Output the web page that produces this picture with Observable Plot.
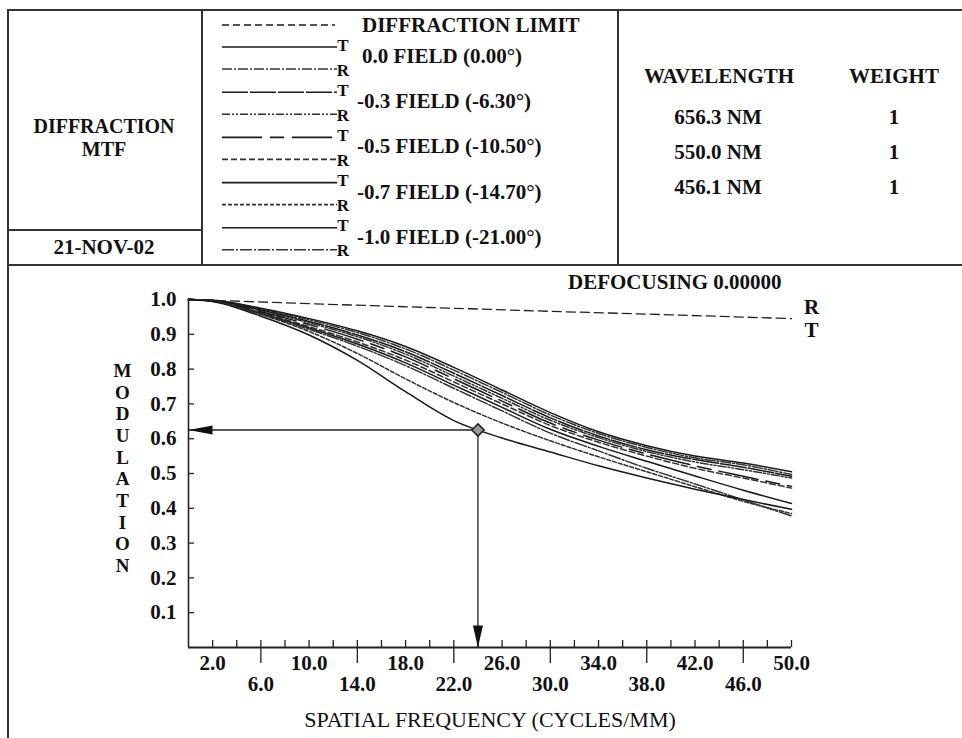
<!DOCTYPE html>
<html>
<head>
<meta charset="utf-8">
<script src="https://cdn.jsdelivr.net/npm/d3@7"></script>
<script src="https://cdn.jsdelivr.net/npm/@observablehq/plot@0.6"></script>
<style>
  body { margin: 0; background: #fff; }
  #root { position: relative; width: 962px; height: 738px; overflow: hidden; background: #fff;
          font-family: "Liberation Serif", "Times New Roman", serif; }
  #frame { position: absolute; left: 0; top: 0; }
  #plot { position: absolute; left: 0; top: 265px; }
</style>
</head>
<body>
<div id="root">
  <svg id="frame" width="962" height="738"></svg>
  <div id="plot"></div>
</div>
<script>
// ---------------- DATA ----------------
const freqs = [0, 2, 6, 10, 14, 18, 22, 26, 30, 34, 38, 42, 46, 50];

const diffFreqs = [0, 10, 20, 30, 40, 50];
const diffLimit = [1.0, 0.988, 0.977, 0.966, 0.956, 0.945];

const mtf00T = [1, 0.998, 0.975, 0.945, 0.910, 0.865, 0.805, 0.740, 0.675, 0.620, 0.580, 0.550, 0.530, 0.505];
const mtf00R = [1, 0.998, 0.973, 0.942, 0.905, 0.858, 0.797, 0.733, 0.668, 0.615, 0.575, 0.545, 0.525, 0.497];
const mtf03T = [1, 0.997, 0.970, 0.937, 0.898, 0.850, 0.788, 0.724, 0.660, 0.608, 0.568, 0.540, 0.518, 0.492];
const mtf03R = [1, 0.997, 0.968, 0.933, 0.893, 0.843, 0.780, 0.716, 0.653, 0.603, 0.563, 0.533, 0.511, 0.487];
const mtf05T = [1, 0.996, 0.965, 0.928, 0.886, 0.835, 0.772, 0.708, 0.645, 0.596, 0.556, 0.522, 0.492, 0.463];
const mtf05R = [1, 0.996, 0.962, 0.922, 0.878, 0.826, 0.763, 0.700, 0.638, 0.590, 0.550, 0.515, 0.487, 0.458];
const mtf07T = [1, 0.996, 0.960, 0.918, 0.872, 0.818, 0.754, 0.690, 0.627, 0.578, 0.535, 0.493, 0.452, 0.414];
const mtf07R = [1, 0.995, 0.957, 0.908, 0.845, 0.772, 0.704, 0.645, 0.594, 0.548, 0.505, 0.462, 0.420, 0.385];
const mtf10T = [1, 0.994, 0.952, 0.898, 0.825, 0.735, 0.652, 0.602, 0.562, 0.522, 0.487, 0.455, 0.425, 0.397];
const mtf10R = [1, 0.995, 0.958, 0.914, 0.866, 0.810, 0.745, 0.680, 0.616, 0.565, 0.515, 0.470, 0.424, 0.378];

const fieldLabels = ["0.0 FIELD (0.00°)", "-0.3 FIELD (-6.30°)", "-0.5 FIELD (-10.50°)", "-0.7 FIELD (-14.70°)", "-1.0 FIELD (-21.00°)"];
const tangential = [mtf00T, mtf03T, mtf05T, mtf07T, mtf10T];
const radial     = [mtf00R, mtf03R, mtf05R, mtf07R, mtf10R];

const wavelengths = ["656.3 NM", "550.0 NM", "456.1 NM"];
const weights = ["1", "1", "1"];

const yTicks = [0.1, 0.2, 0.3, 0.4, 0.5, 0.6, 0.7, 0.8, 0.9, 1.0];
const xLabelsTop = [2, 10, 18, 26, 34, 42, 50];
const xLabelsBottom = [6, 14, 22, 30, 38, 46];
const xMinorTicks = [2, 4, 6, 8, 10, 12, 14, 16, 18, 20, 22, 24, 26, 28, 30, 32, 34, 36, 38, 40, 42, 44, 46, 48, 50];
const xMajorTicks = [6, 14, 22, 30, 38, 46];

const readout = {freq: 24, mtf: 0.625};

const titleLines = ["DIFFRACTION", "MTF"];
const dateLabel = "21-NOV-02";
const diffLabel = "DIFFRACTION LIMIT";
const defocusLabel = "DEFOCUSING 0.00000";
const xTitle = "SPATIAL FREQUENCY (CYCLES/MM)";
const yTitle = "MODULATION";

// styles
const tDash = ["none", "26,2", "40,8,14,8", "none", "none"];
const rDash = ["10,2,2,2", "8,2,2,2,2,2", "6,3", "4,2", "12,2,2,2"];
const tColor = "#1a1a1a";
const rColor = "#333";
const font = "'Liberation Serif', 'Times New Roman', serif";

// ---------------- HEADER / FRAME ----------------
const svg = d3.select("#frame");
const ink = "#333";
const seg = (x1, y1, x2, y2, w = 2) =>
  svg.append("line").attr("x1", x1).attr("y1", y1).attr("x2", x2).attr("y2", y2)
     .attr("stroke", ink).attr("stroke-width", w);
seg(7, 10, 962, 10);
seg(8, 9, 8, 738);
seg(202, 10, 202, 265);
seg(618, 10, 618, 265);
seg(8, 230, 202, 230);
seg(8, 265, 962, 265);

const txt = (x, y, s, anchor = "middle", opts = {}) =>
  svg.append("text").attr("x", x).attr("y", y).attr("text-anchor", anchor)
     .attr("dominant-baseline", "central")
     .attr("font-family", font).attr("font-size", opts.size || 21)
     .attr("font-weight", opts.weight || "bold").attr("fill", "#111").text(s);

titleLines.forEach((s, i) => txt(104, 126 + i * 23, s, "middle", {size: 20}));
txt(104, 247, dateLabel);

// legend
svg.append("line").attr("x1", 222).attr("x2", 335).attr("y1", 25).attr("y2", 25)
   .attr("stroke", tColor).attr("stroke-width", 1.3).attr("stroke-dasharray", "7,4");
txt(362, 25, diffLabel, "start");
fieldLabels.forEach((lab, i) => {
  const yT = 47 + i * 45.2, yR = 69 + i * 45.2;
  svg.append("line").attr("x1", 222).attr("x2", 337).attr("y1", yT).attr("y2", yT)
     .attr("stroke", tColor).attr("stroke-width", 1.6).attr("stroke-dasharray", tDash[i]);
  svg.append("line").attr("x1", 222).attr("x2", 337).attr("y1", yR).attr("y2", yR)
     .attr("stroke", rColor).attr("stroke-width", 1.6).attr("stroke-dasharray", rDash[i]);
  txt(343, yT - 2, "T", "middle", {size: 17});
  txt(343, yR + 1, "R", "middle", {size: 17});
  txt(lab.startsWith("-") ? 357 : 362, 56 + i * 45.2, lab, "start");
});

txt(719, 76, "WAVELENGTH");
txt(894, 76, "WEIGHT");
wavelengths.forEach((w, i) => {
  txt(718, 117 + i * 35, w);
  txt(894, 117 + i * 35, weights[i]);
});

// ---------------- PLOT ----------------
const diffData = diffFreqs.map((f, i) => ({freq: f, mtf: diffLimit[i]}));
const lastDiff = diffData[diffData.length - 1];

const curveMarks = [];
fieldLabels.forEach((lab, i) => {
  const tData = freqs.map((f, j) => ({freq: f, mtf: tangential[i][j]}));
  const rData = freqs.map((f, j) => ({freq: f, mtf: radial[i][j]}));
  curveMarks.push(Plot.line(rData, {x: "freq", y: "mtf", curve: "monotone-x", stroke: rColor, strokeWidth: 1.5, strokeDasharray: rDash[i]}));
  curveMarks.push(Plot.line(tData, {x: "freq", y: "mtf", curve: "monotone-x", stroke: tColor, strokeWidth: 1.5, strokeDasharray: tDash[i]}));
});

const arrowLeft = {draw(ctx) { ctx.moveTo(0, 0); ctx.lineTo(24, -4.5); ctx.lineTo(24, 4.5); ctx.closePath(); }};
const arrowDown = {draw(ctx) { ctx.moveTo(0, 0); ctx.lineTo(-5, -22); ctx.lineTo(5, -22); ctx.closePath(); }};

const plot = Plot.plot({
  width: 962,
  height: 473,
  marginLeft: 188,
  marginRight: 171,
  marginTop: 34,
  marginBottom: 91,
  x: {domain: [0, 50], axis: null, label: null},
  y: {domain: [0, 1], axis: null, label: null},
  style: {background: "transparent", fontFamily: font, fontSize: "21px", fontWeight: "bold", color: "#111", overflow: "visible"},
  marks: [
    // axes
    Plot.ruleX([0], {y1: () => 0, y2: () => 1, stroke: "#222", strokeWidth: 1.6}),
    Plot.ruleY([0], {x1: () => 0, x2: () => 50, stroke: "#222", strokeWidth: 2}),
    Plot.axisY({ticks: yTicks, tickSize: -6, tickFormat: () => "", label: null, stroke: "#222", strokeWidth: 1.3}),
    Plot.axisY({ticks: yTicks, tickSize: 0, tickPadding: 12, tickFormat: d3.format(".1f"), label: null}),
    Plot.axisX({ticks: xMinorTicks, tickSize: -7, tickFormat: () => "", label: null, stroke: "#222", strokeWidth: 1.3}),
    Plot.axisX({ticks: xMajorTicks, tickSize: 16, tickFormat: () => "", label: null, stroke: "#222", strokeWidth: 1.3}),
    Plot.axisX({ticks: xLabelsTop, tickSize: 0, tickPadding: 8, tickFormat: d3.format(".1f"), label: null}),
    Plot.axisX({ticks: xLabelsBottom, tickSize: 0, tickPadding: 29, tickFormat: d3.format(".1f"), label: null}),
    // diffraction limit
    Plot.line(diffData, {x: "freq", y: "mtf", stroke: "#222", strokeWidth: 1.3, strokeDasharray: "9,5"}),
    Plot.text([lastDiff], {x: "freq", y: "mtf", text: () => "R", dx: 20, dy: -11}),
    Plot.text([lastDiff], {x: "freq", y: "mtf", text: () => "T", dx: 20, dy: 12}),
    // MTF curves
    ...curveMarks,
    // readout arrows
    Plot.ruleY([readout], {x1: () => 0, x2: "freq", y: "mtf", stroke: "#222", strokeWidth: 1.3}),
    Plot.ruleX([readout], {x: "freq", y1: () => 0, y2: "mtf", stroke: "#222", strokeWidth: 1.3}),
    Plot.dot([readout], {x: () => 0, y: "mtf", symbol: arrowLeft, fill: "#111", stroke: "none"}),
    Plot.dot([readout], {x: "freq", y: () => 0, symbol: arrowDown, fill: "#111", stroke: "none"}),
    Plot.dot([readout], {x: "freq", y: "mtf", symbol: "diamond2", r: 5.5, fill: "#999", stroke: "#222", strokeWidth: 1.6}),
    // titles
    Plot.text([defocusLabel], {frameAnchor: "top-right", text: d => d, textAnchor: "end", dx: -10, dy: -25}),
    Plot.text([yTitle.split("").join("\n")], {frameAnchor: "left", text: d => d, textAnchor: "middle", fontSize: 19, lineHeight: 1.14, dx: -66, dy: -6}),
    Plot.text([xTitle], {frameAnchor: "bottom", text: d => d, dy: 79, fontWeight: "normal", fontSize: 22})
  ]
});
document.getElementById("plot").appendChild(plot);
</script>
</body>
</html>
